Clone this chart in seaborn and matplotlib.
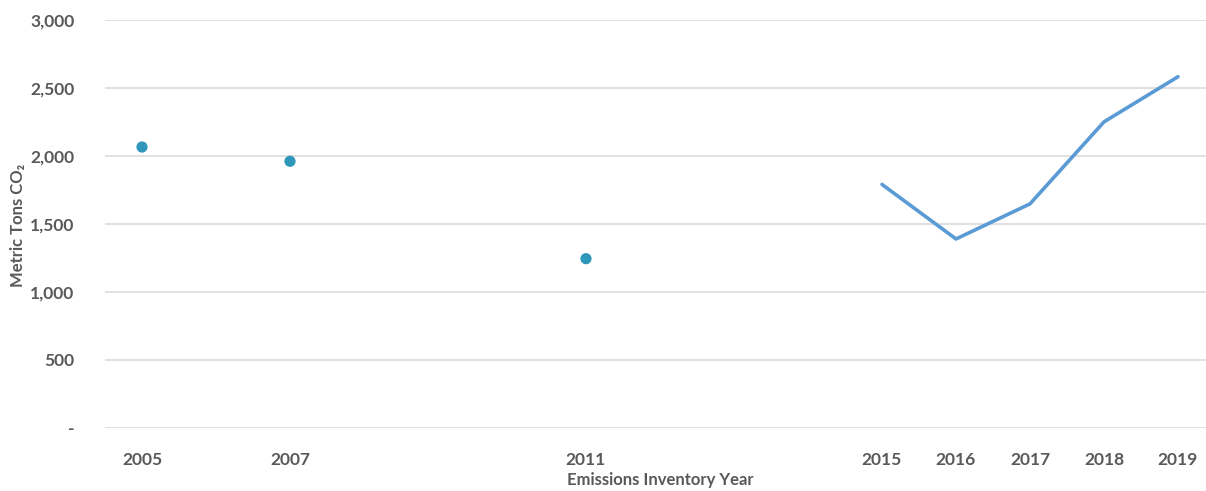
import matplotlib
matplotlib.use("Agg")
import matplotlib.pyplot as plt
import seaborn as sns
import pandas as pd
from matplotlib.ticker import FuncFormatter, FixedLocator

# Data
point_years = [2005, 2007, 2011]
point_values = [2066, 1961, 1245]
line_years = [2015, 2016, 2017, 2018, 2019]
line_values = [1791, 1390, 1648, 2251, 2583]
tick_years = [2005, 2007, 2011, 2015, 2016, 2017, 2018, 2019]
y_ticks = [0, 500, 1000, 1500, 2000, 2500, 3000]

sns.set_theme(style="white")
plt.rcParams['font.family'] = ['Lato', 'DejaVu Sans']

text_color = "#595959"
grid_color = "#D9D9D9"

fig = plt.figure(figsize=(12.06, 4.91), dpi=100)
ax = fig.add_axes([105/1206, 1-428/491, (1215-105)/1206, (428-20)/491])

pts = pd.DataFrame({"year": point_years, "value": point_values})
ln = pd.DataFrame({"year": line_years, "value": line_values})

for y in y_ticks:
    ax.axhline(y, color=grid_color, lw=1.1, zorder=0)

sns.scatterplot(data=pts, x="year", y="value", ax=ax, color="#2F97BA",
                s=65, edgecolor="none", zorder=3)
sns.lineplot(data=ln, x="year", y="value", ax=ax, color="#5B9BD5",
             lw=2.6, zorder=3)

ax.set_xlim(2004.5, 2019.5)
ax.set_ylim(0, 3000)
ax.xaxis.set_major_locator(FixedLocator(tick_years))
ax.yaxis.set_major_locator(FixedLocator(y_ticks))
ax.yaxis.set_major_formatter(FuncFormatter(lambda v, p: "-" if v == 0 else f"{v:,.0f}"))
ax.tick_params(axis="both", length=0, labelsize=12.5, labelcolor=text_color)
ax.tick_params(axis="x", pad=17)
ax.tick_params(axis="y", pad=22)
for lab in ax.get_xticklabels() + ax.get_yticklabels():
    lab.set_fontweight("bold")

for s in ax.spines.values():
    s.set_visible(False)

ax.set_xlabel("Emissions Inventory Year", fontsize=12, fontweight="bold",
              color=text_color)
ax.set_ylabel("Metric Tons CO\u2082", fontsize=12, fontweight="bold",
              color=text_color)
ax.xaxis.set_label_coords((660-105)/1110, -(480-428)/408)
ax.xaxis.label.set_va("center")
ax.yaxis.set_label_coords(-(105-18)/1110, (428-225)/408)
ax.yaxis.label.set_va("center")

fig.savefig("out.png", dpi=100)
